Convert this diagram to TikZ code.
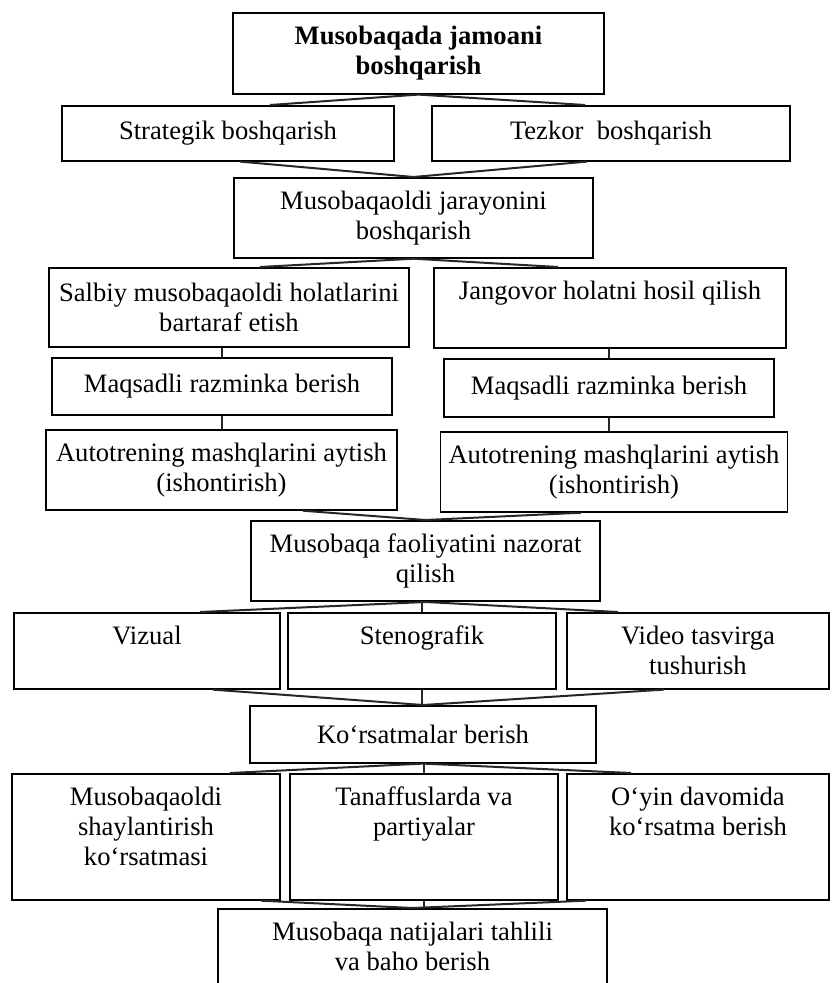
\documentclass[tikz,border=0pt]{standalone}
\usepackage{fontspec}
\setmainfont{Liberation Serif}
\usepackage{tikz}
\usetikzlibrary{positioning, calc}
\tikzset{
    block/.style={
        rectangle, draw=black, line width=0.8pt, align=center,
        anchor=north, inner xsep=4pt, inner ysep=6.5pt,
        font=\fontsize{13.3}{15}\selectfont
    },
    topblock/.style={
        block, text depth=#1
    },
    link/.style={
        line width=1pt, black!85
    }
}

\begin{document}
\begin{tikzpicture}[x=0.5pt, y=-0.5pt]
        \useasboundingbox (0,0) rectangle (831,983);
        % boxes
        \node [block, minimum width=185.5pt, minimum height=40.5pt, font=\fontsize{13.3}{15}\selectfont\bfseries] (top) at (418.5,12) {Musobaqada jamoani\\boshqarish};
        \node [block, minimum width=166pt, minimum height=27.5pt] (strat) at (228,105) {Strategik boshqarish};
        \node [block, minimum width=179pt, minimum height=27.5pt] (tez) at (611,105) {Tezkor\ \ boshqarish};
        \node [block, minimum width=179.5pt, minimum height=40pt] (jar) at (413.5,177) {Musobaqaoldi jarayonini\\boshqarish};
        \node [block, minimum width=180pt, minimum height=39.5pt] (salb) at (229,267) {Salbiy musobaqaoldi holatlarini\\bartaraf etish};
        \node [topblock=17.8pt, minimum width=176pt] (jang) at (610,267) {Jangovor holatni hosil qilish};
        \node [block, minimum width=170pt, minimum height=28.5pt] (maqL) at (222,357) {Maqsadli razminka berish};
        \node [block, minimum width=165pt, minimum height=29pt] (maqR) at (609,358) {Maqsadli razminka berish};
        \node [block, minimum width=175.5pt, minimum height=39.5pt] (autL) at (221.5,429) {Autotrening mashqlarini aytish\\(ishontirish)};
        \node [block, minimum width=171pt, minimum height=39.5pt] (autR) at (614,431) {Autotrening mashqlarini aytish\\(ishontirish)};
        \node [block, minimum width=174.5pt, minimum height=39pt] (fao) at (425.5,520) {Musobaqa faoliyatini nazorat\\qilish};
        \node [topblock=15.8pt, minimum width=133pt] (viz) at (147,612) {Vizual};
        \node [topblock=15.8pt, minimum width=134pt] (sten) at (422,612) {Stenografik};
        \node [block, minimum width=131pt, minimum height=38pt] (vid) at (698,612) {Video tasvirga\\tushurish};
        \node [block, minimum width=173pt, minimum height=28.5pt] (kor) at (423,705) {Ko‘rsatmalar berish};
        \node [topblock=10.8pt, minimum width=134pt] (mus) at (146,773) {Musobaqaoldi\\shaylantirish\\ko‘rsatmasi};
        \node [topblock=25.8pt, minimum width=134pt] (tan) at (424,773) {Tanaffuslarda va\\partiyalar};
        \node [topblock=25.8pt, minimum width=131pt] (oyin) at (698,773) {O‘yin davomida\\ko‘rsatma berish};
        \node [block, minimum width=194.5pt, minimum height=36.5pt] (nat) at (412.5,908) {Musobaqa natijalari tahlili\\va baho berish};

        % links
        \draw [link] (top.south) -- ([xshift=21pt]strat.north);
        \draw [link] (top.south) -- ([xshift=-13pt]tez.north);
        \draw [link] ([xshift=6pt]strat.south) -- (jar.north);
        \draw [link] ([xshift=-12pt]tez.south) -- (jar.north);
        \draw [link] (jar.south) -- ([xshift=15.5pt]salb.north);
        \draw [link] (jar.south) -- ([xshift=-26pt]jang.north);
        \draw [link] (salb.south -| maqL.north) -- (maqL.north);
        \draw [link] (jang.south -| maqR.north) -- (maqR.north);
        \draw [link] (maqL.south -| autL.north) -- (autL.north);
        \draw [link] (maqR.south) -- (maqR.south |- autR.north);
        \draw [link] ([xshift=40.75pt]autL.south) -- (fao.north);
        \draw [link] ([xshift=-16.5pt]autR.south) -- (fao.north);
        \draw [link] (fao.south) -- ([xshift=26.5pt]viz.north);
        \draw [link] (fao.south -| sten.north) -- (sten.north);
        \draw [link] (fao.south) -- ([xshift=-40pt]vid.north);
        \draw [link] ([xshift=33pt]viz.south) -- (kor.north);
        \draw [link] (sten.south) -- (sten.south |- kor.north);
        \draw [link] ([xshift=-17pt]vid.south) -- (kor.north);
        \draw [link] (kor.south) -- ([xshift=42pt]mus.north);
        \draw [link] (kor.south -| tan.north) -- (tan.north);
        \draw [link] (kor.south) -- ([xshift=-33.5pt]oyin.north);
        \draw [link] ([xshift=-10pt]mus.south east) -- (nat.north);
        \draw [link] (tan.south) -- (tan.south |- nat.north);
        \draw [link] ([xshift=10pt]oyin.south west) -- (nat.north);
\end{tikzpicture}
\end{document}
